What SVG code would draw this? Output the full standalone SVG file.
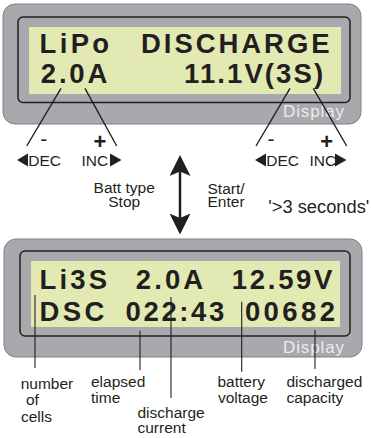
<svg xmlns="http://www.w3.org/2000/svg" width="371" height="438" viewBox="0 0 371 438">
<style>
.case{fill:#a7a9ac;stroke:#7f8184;stroke-width:1}
.bezel{fill:#a7a9ac;stroke:#231f20;stroke-width:1.5}
.lcd{fill:#e2e9b3}
.lcdt{font-family:"Liberation Sans",Arial,sans-serif;font-weight:bold;font-size:27.5px;fill:#231f20}
.disp{font-family:"Liberation Sans",Arial,sans-serif;font-size:17px;fill:#ececec}
.lbl{font-family:"Liberation Sans",Arial,sans-serif;font-size:15.5px;fill:#231f20}
.sym{font-family:"Liberation Sans",Arial,sans-serif;fill:#231f20}
.ln{stroke:#231f20;stroke-width:1.4;fill:none}
.vln{stroke:#231f20;stroke-width:1.1;fill:none}
.tri{fill:#231f20}
</style>
<defs>
<marker id="ah" viewBox="0 0 21 21" markerWidth="21" markerHeight="21" refX="18" refY="10.5" orient="auto-start-reverse" markerUnits="userSpaceOnUse">
<path d="M0,0 L21,10.5 L0,21 L4.5,10.5 Z" fill="#231f20"/>
</marker>
</defs>

<g id="display-top">
<rect class="case" x="3" y="4" width="358" height="120" rx="12"/>
<rect class="bezel" x="18" y="17" width="332" height="85.5" rx="5"/>
<rect class="lcd" x="29" y="27" width="312" height="67"/>
<text class="lcdt" x="39.6" y="52.5" style="letter-spacing:3.3px">LiPo</text>
<text class="lcdt" x="141" y="52.5" style="letter-spacing:2.95px">DISCHARGE</text>
<text class="lcdt" x="40.8" y="82.8" style="letter-spacing:2.8px">2.0A</text>
<text class="lcdt" x="184" y="82.8" style="letter-spacing:2.1px">11.1V(3S)</text>
<text class="disp" x="283" y="117" textLength="61">Display</text>
</g>

<g id="display-bottom">
<rect class="case" x="4" y="239" width="358" height="118" rx="12"/>
<rect class="bezel" x="20" y="251" width="330" height="85" rx="5"/>
<rect class="lcd" x="31" y="261" width="309" height="66"/>
<text class="lcdt" x="39.6" y="288.5" style="letter-spacing:3.1px">Li3S</text>
<text class="lcdt" x="135.8" y="288.5" style="letter-spacing:3.1px">2.0A</text>
<text class="lcdt" x="231.8" y="288.5" style="letter-spacing:2.7px">12.59V</text>
<text class="lcdt" x="39.6" y="321" style="letter-spacing:3.4px">DSC</text>
<text class="lcdt" x="125.6" y="321" style="letter-spacing:2.6px">022:43</text>
<text class="lcdt" x="244.9" y="321" style="letter-spacing:3.4px">00682</text>
<text class="disp" x="283" y="352.5" textLength="61">Display</text>
</g>

<g id="connectors">
<line class="ln" x1="61" y1="88.3" x2="26.7" y2="146"/>
<line class="ln" x1="85" y1="88.3" x2="116.7" y2="146"/>
<line class="ln" x1="290" y1="88.3" x2="256" y2="146"/>
<line class="ln" x1="313.3" y1="88.3" x2="346.7" y2="146"/>
<line x1="180" y1="158" x2="180" y2="231.5" stroke="#231f20" stroke-width="2.5" marker-start="url(#ah)" marker-end="url(#ah)"/>
<line class="vln" x1="35" y1="295" x2="35" y2="368"/>
<line class="vln" x1="140" y1="331" x2="140" y2="370"/>
<line class="vln" x1="171" y1="297" x2="171" y2="398"/>
<line class="vln" x1="241.7" y1="301.7" x2="241.7" y2="371.7"/>
<line class="vln" x1="315" y1="330" x2="315" y2="369"/>
</g>

<g id="controls-left">
<text class="sym" x="43.8" y="146" font-size="21" text-anchor="middle">-</text>
<text class="sym" x="100" y="149" font-size="22" text-anchor="middle" font-weight="bold">+</text>
<polygon class="tri" points="28,153.5 17,160 28,166.5"/>
<text class="lbl" x="28.3" y="165.5">DEC</text>
<text class="lbl" x="81.5" y="165.5">INC</text>
<polygon class="tri" points="110,153.5 121.5,160 110,166.5"/>
</g>

<g id="controls-right">
<text class="sym" x="271" y="146" font-size="21" text-anchor="middle">-</text>
<text class="sym" x="326.7" y="149" font-size="22" text-anchor="middle" font-weight="bold">+</text>
<polygon class="tri" points="266,153.5 255,160 266,166.5"/>
<text class="lbl" x="266.3" y="165.5">DEC</text>
<text class="lbl" x="309.5" y="165.5">INC</text>
<polygon class="tri" points="335,153.5 346.5,160 335,166.5"/>
</g>

<g id="button-labels">
<text class="lbl" x="124.2" y="193.3" text-anchor="middle">Batt type</text>
<text class="lbl" x="124.2" y="207.3" text-anchor="middle">Stop</text>
<text class="lbl" x="207.5" y="194">Start/</text>
<text class="lbl" x="207.5" y="207.3">Enter</text>
<text class="lbl" x="268.3" y="212.7" textLength="101" lengthAdjust="spacingAndGlyphs" style="font-size:18px">'&gt;3 seconds'</text>
</g>

<g id="field-labels">
<text class="lbl" x="20.7" y="389.3">number</text>
<text class="lbl" x="26" y="405">of</text>
<text class="lbl" x="21" y="421.7">cells</text>
<text class="lbl" x="91" y="387.3">elapsed</text>
<text class="lbl" x="91" y="403.3">time</text>
<text class="lbl" x="137.5" y="418.3">discharge</text>
<text class="lbl" x="137.5" y="433.3">current</text>
<text class="lbl" x="217.5" y="386.7">battery</text>
<text class="lbl" x="218" y="403.3">voltage</text>
<text class="lbl" x="286.5" y="386.7">discharged</text>
<text class="lbl" x="286.5" y="403.3">capacity</text>
</g>
</svg>
